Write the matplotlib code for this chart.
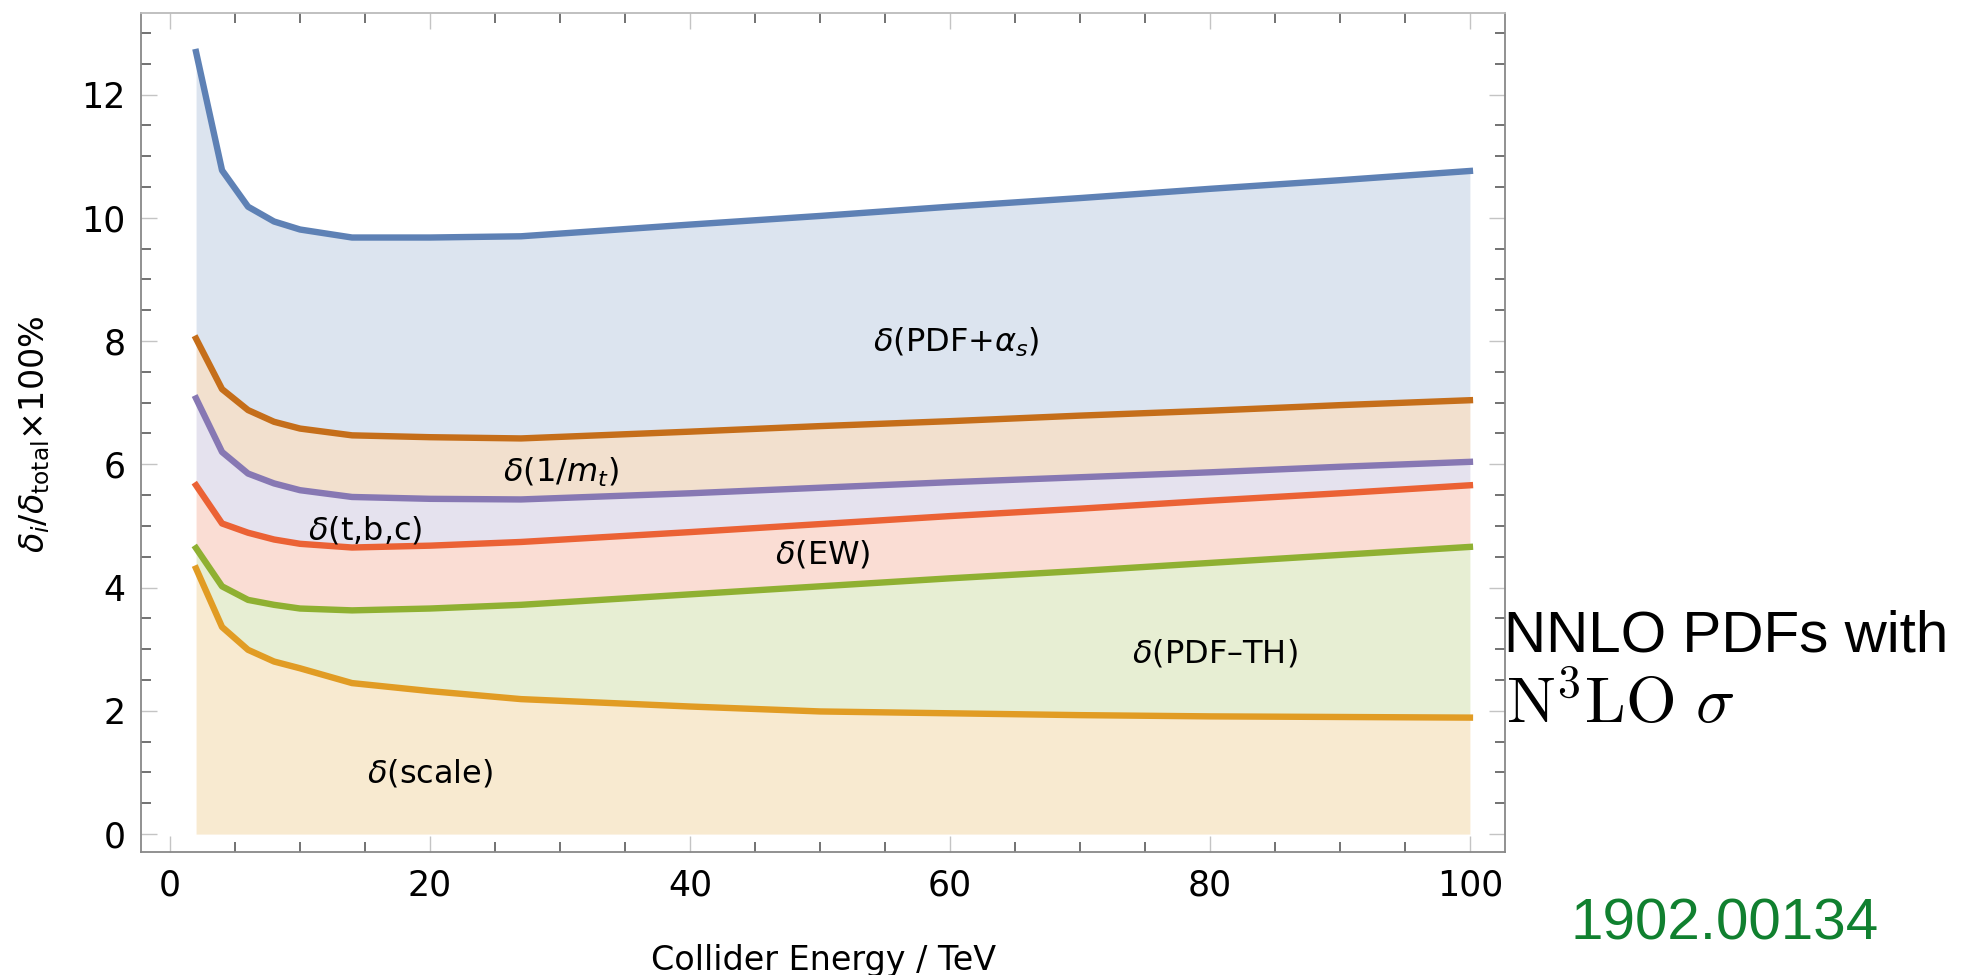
import matplotlib
matplotlib.use("Agg")
import matplotlib.pyplot as plt
from matplotlib.ticker import MultipleLocator
import numpy as np

plt.rcParams["font.family"] = "DejaVu Sans"
plt.rcParams["mathtext.fontset"] = "dejavusans"

# collider energy in TeV
energy = [2, 4, 6, 8, 10, 14, 20, 27, 40, 50, 60, 70, 80, 90, 100]

# cumulative uncertainty curves, delta_i / delta_total x 100%
scale   = [4.31, 3.36, 2.99, 2.80, 2.69, 2.45, 2.32, 2.19, 2.07, 1.99, 1.96, 1.93, 1.91, 1.90, 1.89]
pdf_th  = [4.64, 4.02, 3.80, 3.72, 3.66, 3.63, 3.66, 3.72, 3.89, 4.02, 4.15, 4.27, 4.40, 4.53, 4.66]
ew      = [5.66, 5.04, 4.89, 4.78, 4.71, 4.65, 4.68, 4.74, 4.90, 5.03, 5.16, 5.28, 5.41, 5.53, 5.66]
tbc     = [7.07, 6.20, 5.85, 5.69, 5.58, 5.47, 5.44, 5.43, 5.53, 5.62, 5.71, 5.79, 5.87, 5.96, 6.04]
inv_mt  = [8.04, 7.22, 6.88, 6.69, 6.58, 6.47, 6.44, 6.42, 6.53, 6.62, 6.70, 6.79, 6.87, 6.96, 7.04]
pdf_as  = [12.69, 10.77, 10.18, 9.94, 9.81, 9.68, 9.68, 9.70, 9.89, 10.03, 10.18, 10.32, 10.47, 10.61, 10.76]

curves = [scale, pdf_th, ew, tbc, inv_mt, pdf_as]
colors = ["#E19C24", "#8FB032", "#EB6235", "#8778B3", "#C56E1A", "#5E81B5"]

band_labels = [r"$\delta$(scale)", r"$\delta$(PDF–TH)", r"$\delta$(EW)",
               r"$\delta$(t,b,c)", r"$\delta$(1/$m_t$)", r"$\delta$(PDF+$\alpha_s$)"]
label_x = [20.0, 80.4, 50.2, 15.0, 30.1, 60.5]
label_y = [0.98, 2.93, 4.53, 4.93, 5.87, 7.98]

fig = plt.figure(figsize=(19.73, 9.75), dpi=100)
ax = fig.add_axes([0.0715, 0.1262, 0.6913, 0.8609])

x = np.array(energy)
lower = np.zeros(len(energy))
for ys, c in zip(curves, colors):
    ys = np.array(ys)
    ax.fill_between(x, lower, ys, color=c, alpha=0.21, linewidth=0)
    lower = ys
for ys, c in zip(curves, colors):
    ax.plot(x, ys, color=c, lw=4.6, solid_joinstyle="round")

for t, lx, ly in zip(band_labels, label_x, label_y):
    ax.text(lx, ly, t, fontsize=23, ha="center", va="center")

ax.set_xlim(-2.23, 102.7)
ax.set_ylim(-0.29, 13.33)
ax.set_xticks([0, 20, 40, 60, 80, 100])
ax.set_yticks([0, 2, 4, 6, 8, 10, 12])
ax.xaxis.set_minor_locator(MultipleLocator(5))
ax.yaxis.set_minor_locator(MultipleLocator(0.5))
ax.tick_params(which="major", direction="in", length=11.5, width=1.0, color="#c4c4c4",
               top=True, right=True, labelsize=25)
ax.tick_params(axis="x", which="major", pad=12)
ax.tick_params(axis="y", which="major", pad=11)
ax.tick_params(which="minor", direction="in", length=7.5, width=1.2, color="#5a5a5a",
               top=True, right=True)
for s in ["left", "bottom", "right"]:
    ax.spines[s].set_color("#888888")
    ax.spines[s].set_linewidth(1.3)
ax.spines["top"].set_color("#bbbbbb")
ax.spines["top"].set_linewidth(1.3)

fig.text(0.4175, 0.0051, "Collider Energy / TeV", fontsize=24, ha="center", va="baseline")
fig.text(0.0178, 0.555, r"$\delta_i/\delta_{\mathrm{total}}$×100%", fontsize=24,
         rotation=90, ha="center", va="center")

fig.text(1504 / 1973, 1 - 652 / 975, "NNLO PDFs with", fontsize=42,
         family="Liberation Sans", ha="left", va="baseline")
fig.text(1506 / 1973, 1 - 723 / 975, r"$\mathrm{N}^3\mathrm{LO}\ \sigma$", fontsize=47,
         math_fontfamily="cm", ha="left", va="baseline")
fig.text(1725 / 1973, 1 - 940 / 975, "1902.00134", fontsize=42, color="#10802f",
         family="Liberation Sans", ha="center", va="baseline")

fig.savefig("out.png", dpi=100)
